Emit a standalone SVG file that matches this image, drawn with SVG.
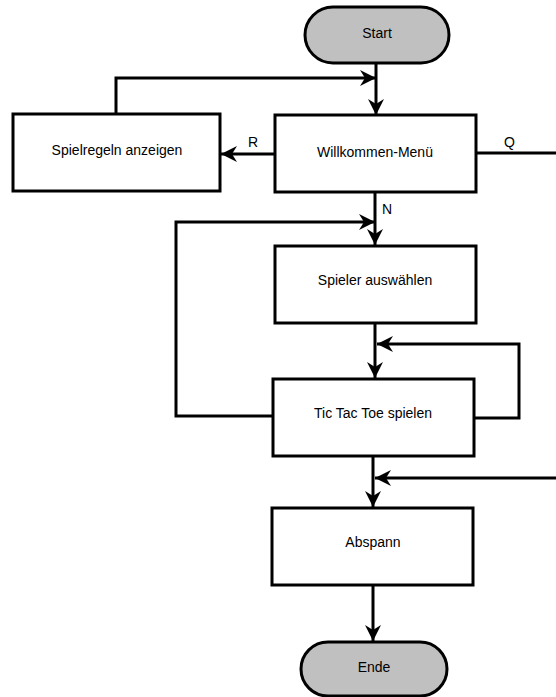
<svg xmlns="http://www.w3.org/2000/svg" width="556" height="697" viewBox="0 0 556 697">
<style>
.box{fill:#fff;stroke:#000;stroke-width:3}
.term{fill:#c0c0c0;stroke:#000;stroke-width:3}
.t{font-family:"Liberation Sans",Arial,sans-serif;font-size:14px;text-anchor:middle;fill:#000}
.lbl{font-family:"Liberation Sans",Arial,sans-serif;font-size:14px;fill:#000}
.c{fill:none;stroke:#000;stroke-width:3}
</style>
<defs>
<marker id="ah" markerUnits="userSpaceOnUse" markerWidth="18" markerHeight="18" refX="16" refY="8" orient="auto">
<path d="M0,0 L16,8 L0,16 L5,8 z" fill="#000"/>
</marker>
</defs>
<rect width="556" height="697" fill="#fff"/>
<g id="connectors">
<path class="c" d="M376,63 V115" marker-end="url(#ah)"/>
<path class="c" d="M116,114 V78 H376" marker-end="url(#ah)"/>
<path class="c" d="M275,154 H221" marker-end="url(#ah)"/>
<path class="c" d="M476,153 H556"/>
<path class="c" d="M375,192 V245" marker-end="url(#ah)"/>
<path class="c" d="M274,416 H176 V222 H375" marker-end="url(#ah)"/>
<path class="c" d="M375,323 V378" marker-end="url(#ah)"/>
<path class="c" d="M474,418 H519 V344 H377" marker-end="url(#ah)"/>
<path class="c" d="M373,456 V507" marker-end="url(#ah)"/>
<path class="c" d="M556,478 H375" marker-end="url(#ah)"/>
<path class="c" d="M373,585 V641" marker-end="url(#ah)"/>
<text class="lbl" x="248" y="147">R</text>
<text class="lbl" x="504" y="147">Q</text>
<text class="lbl" x="382" y="214">N</text>
</g>
<g id="start">
<rect class="term" x="305" y="7" width="144" height="56" rx="28"/>
<text class="t" x="377" y="38">Start</text>
</g>
<g id="willkommen">
<rect class="box" x="275" y="115" width="201" height="77"/>
<text class="t" x="375" y="157">Willkommen-Menü</text>
</g>
<g id="spielregeln">
<rect class="box" x="13" y="114" width="207" height="77"/>
<text class="t" x="117" y="155">Spielregeln anzeigen</text>
</g>
<g id="spieler">
<rect class="box" x="275" y="246" width="201" height="77"/>
<text class="t" x="375" y="285">Spieler auswählen</text>
</g>
<g id="tictactoe">
<rect class="box" x="273" y="379" width="201" height="77"/>
<text class="t" x="373" y="418">Tic Tac Toe spielen</text>
</g>
<g id="abspann">
<rect class="box" x="272" y="508" width="201" height="77"/>
<text class="t" x="373" y="547">Abspann</text>
</g>
<g id="ende">
<rect class="term" x="301" y="642" width="146" height="54" rx="27"/>
<text class="t" x="374" y="672">Ende</text>
</g>
</svg>
